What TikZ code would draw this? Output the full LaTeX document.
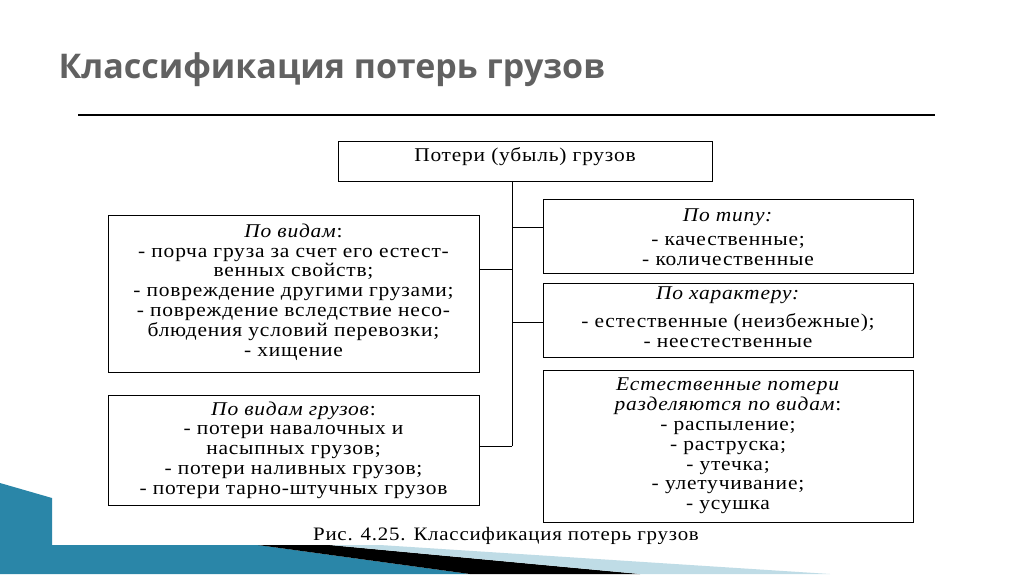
\documentclass[tikz,border=0pt]{standalone}
\usepackage{fontspec}
\setmainfont{Liberation Serif}[LetterSpace=4,FakeStretch=1.1]
\newfontfamily\titlefont{Open Sans}
\definecolor{teal1}{HTML}{2A86A8}
\definecolor{teal2}{HTML}{BFDCE6}
\begin{document}
\begin{tikzpicture}[x=1pt,y=-1pt,
  bx/.style={draw,line width=0.8pt,inner sep=0pt},
  tx/.style={font=\fontsize{19.5}{19.8}\selectfont,align=center},
  ln/.style={line width=0.9pt}]
\useasboundingbox (0,0) rectangle (1024,574);
\fill[white] (0,0) rectangle (1024,574);
% decoration
\fill[teal1] (0,483) -- (52,498) -- (52,545) -- (258,545) -- (470,574) -- (0,574) -- cycle;
\fill[black] (258,545) -- (330,545) -- (640,574) -- (470,574) -- cycle;
\fill[teal2] (330,545) -- (380,545) -- (830,574) -- (640,574) -- cycle;
% title
\node[anchor=west,font=\titlefont\bfseries\fontsize{34}{38}\selectfont,text=black!62] (title) at (55,70) {Классификация потерь грузов};
\draw[line width=1.2pt] (78,115) coordinate (l1) -- (935,115) coordinate (l2);
% boxes
\draw[bx] (338,141) rectangle (712,181);
\node[tx] (top) at (525,157) {Потери (убыль) грузов};
\draw[bx] (108,215) rectangle (479,372);
\node[tx] (l1t) at (293.5,292) {\textit{По видам}:\\- порча груза за счет его естест-\\венных свойств;\\- повреждение другими грузами;\\- повреждение вследствие несо-\\блюдения условий перевозки;\\- хищение};
\draw[bx] (108,395) rectangle (479,505);
\node[tx] (l2t) at (293.5,450) {\textit{По видам грузов}:\\- потери навалочных и\\насыпных грузов;\\- потери наливных грузов;\\- потери тарно-штучных грузов};
\draw[bx] (543,199) rectangle (913,273);
\node[tx] (r1t) at (728,237) {\textit{По типу:}\\[4pt]- качественные;\\- количественные};
\draw[bx] (543,283) rectangle (913,357);
\node[tx] (r2t) at (728,317) {\textit{По характеру:}\\[8pt]- естественные (неизбежные);\\- неестественные};
\draw[bx] (543,370) rectangle (913,522);
\node[tx] (r3t) at (728,446) {\textit{Естественные потери}\\\textit{разделяются по видам}:\\- распыление;\\- раструска;\\- утечка;\\- улетучивание;\\- усушка};
% connectors
\coordinate (t0) at (512,181);
\coordinate (t1) at (512,446);
\draw[ln] (t0) -- (t1);
\draw[ln] (512,227) -- (543,227);
\draw[ln] (512,322) -- (543,322);
\draw[ln] (512,269) -- (479,269);
\draw[ln] (512,446) -- (479,446);
\node[font=\fontsize{19}{20}\selectfont] (cap) at (506,536) {Рис. 4.25. Классификация потерь грузов};
\end{tikzpicture}
\end{document}
